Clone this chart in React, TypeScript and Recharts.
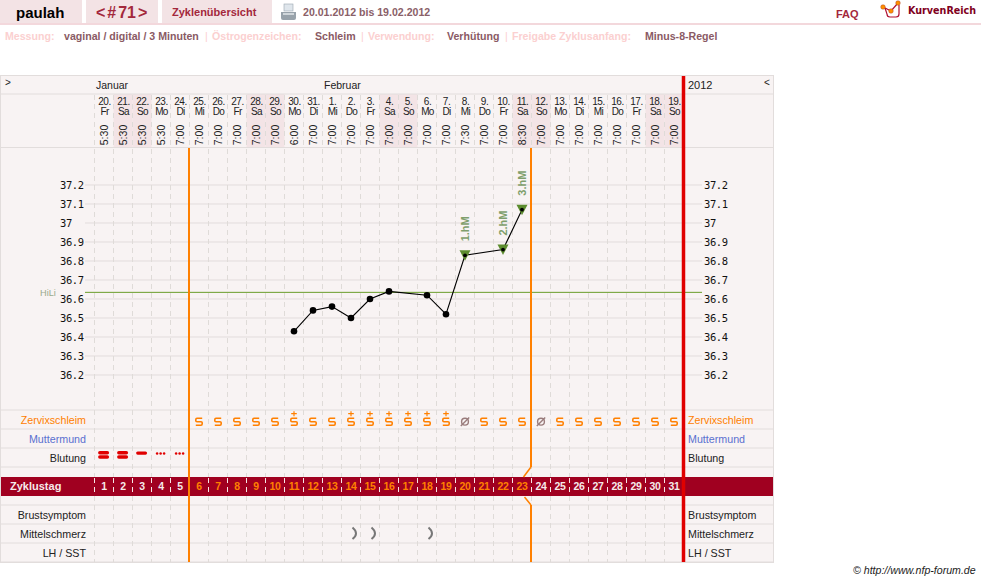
import React from "react";
import { ComposedChart, Line, XAxis, YAxis, ReferenceLine, ReferenceArea } from "recharts";

// ---- data ----
const dates = ["20.","21.","22.","23.","24.","25.","26.","27.","28.","29.","30.","31.","1.","2.","3.","4.","5.","6.","7.","8.","9.","10.","11.","12.","13.","14.","15.","16.","17.","18.","19."];
const weekdays = ["Fr","Sa","So","Mo","Di","Mi","Do","Fr","Sa","So","Mo","Di","Mi","Do","Fr","Sa","So","Mo","Di","Mi","Do","Fr","Sa","So","Mo","Di","Mi","Do","Fr","Sa","So"];
const times = ["5:30","5:30","5:30","5:30","7:00","7:00","7:00","7:00","7:00","7:00","6:00","7:00","7:00","7:00","7:00","7:00","7:00","7:00","7:00","7:30","7:00","7:00","8:30","7:00","7:00","7:00","7:00","7:00","7:00","7:00","7:00"];
const temps: (number | null)[] = [null,null,null,null,null,null,null,null,null,null,36.43,36.54,36.56,36.5,36.6,36.64,null,36.62,36.52,36.83,null,36.86,37.07,null,null,null,null,null,null,null,null];
const hochlage: (string | null)[] = [null,null,null,null,null,null,null,null,null,null,null,null,null,null,null,null,null,null,null,"1.hM",null,"2.hM","3.hM",null,null,null,null,null,null,null,null];
const zervix = ["","","","","","S","S","S","S","S","S+","S","S","S+","S+","S+","S+","S+","S+","0","S","S","S","0","S","S","S","S","S","S","S"];
const blutung = ["2","2","1","d","d","","","","","","","","","","","","","","","","","","","","","","","","","",""];
const schmerz = [13, 14, 17];
const tempTicks = [37.2,37.1,37,36.9,36.8,36.7,36.6,36.5,36.4,36.3,36.2];
const hiLi = 36.635;
const rowLabels = ["Zervixschleim","Muttermund","Blutung","","","Brustsymptom","Mittelschmerz","LH / SST"];
const rowTicks = [0,1,2,5,6,7];
const months = [{ t: "Januar", x: 96 }, { t: "Februar", x: 324 }];

const ORANGE = "#ff8000";
const LINE = "#e2dddc";
const DASH = "#dfdbd8";
const BAND = "#a00020";
const RED = "#e00000";
const SANS = "'Liberation Sans', Arial, sans-serif";
const MONO = "'DejaVu Sans Mono', monospace";

const table = dates.map((d, i) => ({
  x: i,
  date: d,
  wd: weekdays[i],
  time: times[i],
  temp: temps[i],
  hm: hochlage[i],
  zervix: zervix[i],
  zervixRow: zervix[i] ? 0 : null,
  blut: blutung[i],
  blutRow: blutung[i] ? 2 : null,
  painRow: schmerz.includes(i) ? 6 : null,
  cycleRow: 3.526,
}));

// layout helpers: page-pixel to axis units
const py = (p: number) => (p - 419.5) / 19;
const px = (p: number) => (p - 104) / 19;
const boundaries = dates.map((_, i) => i - 0.5).concat([30.5]);
const weekendIdx = dates.map((_, i) => i).filter((i) => weekdays[i] === "Sa" || weekdays[i] === "So");
const rowLines = [94, 147.5, 410, 429, 448, 467, 505, 524, 543, 562];

const headerTick = (p: any) => {
  const i = p.payload.value;
  const x = p.x;
  return (
    <g fontFamily={SANS} fontSize={10} fill="#222" key={i}>
      <text x={x + 0.5} y={29} textAnchor="middle" letterSpacing={-0.5}>{dates[i]}</text>
      <text x={x + 0.5} y={39} textAnchor="middle" letterSpacing={-0.6}>{weekdays[i]}</text>
      <text transform={`translate(${x + 3.5},59) rotate(-90)`} textAnchor="middle" fontSize={10.5}>{times[i]}</text>
    </g>
  );
};

const tempTick = (p: any) => {
  const v = p.payload.value;
  const t = String(v);
  return (
    <g fontFamily={MONO} fontSize={10.5} fill="#111">
      <text x={60} y={p.y + 4} letterSpacing={-0.4}>{t}</text>
      <text x={704} y={p.y + 4} letterSpacing={-0.4}>{t}</text>
    </g>
  );
};

const rowTick = (p: any) => {
  const v = p.payload.value;
  const col = v === 0 ? ORANGE : v === 1 ? "#5a70d0" : "#222";
  return (
    <g fontFamily={SANS} fontSize={10.7} fill={col}>
      <text x={86} y={p.y + 4.5} textAnchor="end">{rowLabels[v]}</text>
      <text x={688} y={p.y + 4.5}>{rowLabels[v]}</text>
    </g>
  );
};

const tempDot = (p: any) => {
  const { cx, cy, payload, index } = p;
  if (payload.temp == null || cy == null) return <g key={index} />;
  if (!payload.hm) return <circle key={index} cx={cx} cy={cy} r={3.3} fill="#000" />;
  return (
    <g key={index}>
      <path d={`M${cx - 5.5},${cy - 5} H${cx + 5.5} L${cx},${cy + 5.5} Z`} fill="#5c8c2e" />
      <circle cx={cx} cy={cy} r={1.9} fill="#000" />
      <text transform={`translate(${cx + 3.5},${cy - 14}) rotate(-90)`} fontFamily={SANS} fontSize={11} fontWeight="bold" fill="#7f9f6c">{payload.hm}</text>
    </g>
  );
};

const zervixDot = (p: any) => {
  const { cx, cy, payload, index } = p;
  if (!payload.zervix || cy == null) return <g key={index} />;
  const y = cy + 2.2;
  if (payload.zervix === "0") {
    return (
      <g key={index} stroke="#9a7c7c" strokeWidth={1.4} fill="none">
        <circle cx={cx} cy={y} r={3.4} />
        <path d={`M${cx - 4.2},${y + 4.2} L${cx + 4.2},${y - 4.2}`} />
      </g>
    );
  }
  return (
    <g key={index} stroke={ORANGE} strokeWidth={1.6} fill="none">
      <path d={`M${cx + 3.2},${y - 3.5} H${cx - 2} Q${cx - 3.2},${y - 3.5} ${cx - 3.2},${y - 2} V${y - 1} Q${cx - 3.2},${y} ${cx - 2},${y} H${cx + 2} Q${cx + 3.2},${y} ${cx + 3.2},${y + 1} V${y + 2} Q${cx + 3.2},${y + 3.5} ${cx + 2},${y + 3.5} H${cx - 3.2}`} />
      {payload.zervix === "S+" && <path d={`M${cx - 2.8},${y - 8} H${cx + 2.8} M${cx},${y - 10.5} V${y - 5.5}`} strokeWidth={1.2} />}
    </g>
  );
};

const blutDot = (p: any) => {
  const { cx, cy, payload, index } = p;
  if (!payload.blut || cy == null) return <g key={index} />;
  const x = cx - 0.4;
  if (payload.blut === "2") {
    return (
      <g key={index} fill={RED}>
        <rect x={x - 5.5} y={cy - 6.5} width={11} height={3.4} rx={1.7} />
        <rect x={x - 5.5} y={cy - 2.2} width={11} height={3.4} rx={1.7} />
      </g>
    );
  }
  if (payload.blut === "1") return <rect key={index} x={x - 5.5} y={cy - 6} width={11} height={3.2} rx={1.6} fill={RED} />;
  return (
    <g key={index} fill={RED}>
      <circle cx={x - 3.5} cy={cy - 4} r={1.25} />
      <circle cx={x} cy={cy - 4} r={1.25} />
      <circle cx={x + 3.5} cy={cy - 4} r={1.25} />
    </g>
  );
};

const painDot = (p: any) => {
  const { cx, cy, payload, index } = p;
  if (payload.painRow == null || cy == null) return <g key={index} />;
  return <path key={index} d={`M${cx + 1.5},${cy - 6} Q${cx + 8.5},${cy} ${cx + 1.5},${cy + 5.5}`} stroke="#777" strokeWidth={2} fill="none" />;
};

const cycleDot = (p: any) => {
  const { cx, cy, payload, index } = p;
  const day = payload.x + 1;
  const col = day >= 6 && day <= 23 ? ORANGE : "#f6eaea";
  return <text key={index} x={cx} y={cy + 4} textAnchor="middle" fontFamily={SANS} fontSize={10.5} fontWeight="bold" letterSpacing={-0.4} fill={col}>{day}</text>;
};

const Chrome = () => (
  <svg width={981} height={582} style={{ position: "absolute", left: 0, top: 0 }} fontFamily={SANS}>
    <rect x={0} y={0} width={82} height={23} fill="#f3e3e5" />
    <rect x={86} y={0} width={72} height={23} fill="#f3e3e5" />
    <rect x={162} y={0} width={110} height={23} fill="#f3e3e5" />
    <rect x={0} y={23} width={981} height={2} fill="#f3d8dc" />
    <text x={16} y={18} fontSize={15} fontWeight="bold" fill="#000">paulah</text>
    <text x={96} y={18} fontSize={16} fontWeight="bold" fill="#a3283c" wordSpacing={-2.5}>{"< # 71 >"}</text>
    <text x={172} y={16} fontSize={11} fontWeight="bold" fill="#a3283c">Zyklenübersicht</text>
    <g>
      <rect x={284} y={4} width={9} height={7} fill="#dfe6ec" stroke="#9aa6b0" strokeWidth={0.6} />
      <path d="M281,12 h15 v6 q0,2 -2,2 h-11 q-2,0 -2,-2 Z" fill="#98a2aa" />
      <rect x={283} y={13} width={11} height={2} fill="#d0d6da" />
    </g>
    <text x={303} y={16} fontSize={10.6} fontWeight="bold" fill="#8a6068">20.01.2012 bis 19.02.2012</text>
    <text x={836} y={18} fontSize={11} fontWeight="bold" fill="#a3283c">FAQ</text>
    <g>
      <path d="M885,8 L887,14 Q887,17 890,17 H896 Q899,17 899,14 V5" fill="none" stroke="#b01030" strokeWidth={1.2} />
      <path d="M883,7 L891,11 L898,3" fill="none" stroke="#b01030" strokeWidth={1.2} />
      <circle cx={883} cy={7} r={2.3} fill="#ff9000" stroke="#a03020" strokeWidth={0.4} />
      <circle cx={891} cy={11} r={2.3} fill="#ff9000" stroke="#a03020" strokeWidth={0.4} />
      <circle cx={898} cy={3} r={2.3} fill="#ff9000" stroke="#a03020" strokeWidth={0.4} />
    </g>
    <text x={908} y={14} fontSize={9.6} fontWeight="bold" fill="#800020" fontFamily="'DejaVu Sans', sans-serif">KurvenReich</text>

    <g fontSize={10.6} fontWeight="bold">
      <text x={5} y={40} fill="#fbd0d0">Messung:</text>
      <text x={64} y={40} fill="#8a5a64">vaginal / digital / 3 Minuten</text>
      <text x={205} y={40} fill="#fbd0d0" fontWeight="normal">|</text>
      <text x={212} y={40} fill="#fbd0d0">Östrogenzeichen:</text>
      <text x={315} y={40} fill="#8a5a64">Schleim</text>
      <text x={361} y={40} fill="#fbd0d0" fontWeight="normal">|</text>
      <text x={368} y={40} fill="#fbd0d0">Verwendung:</text>
      <text x={447} y={40} fill="#8a5a64">Verhütung</text>
      <text x={505} y={40} fill="#fbd0d0" fontWeight="normal">|</text>
      <text x={512} y={40} fill="#fbd0d0">Freigabe Zyklusanfang:</text>
      <text x={645} y={40} fill="#8a5a64">Minus-8-Regel</text>
    </g>

    <rect x={0.5} y={75.5} width={773} height={487} fill="#f8f3f3" stroke={LINE} />
    <text x={5} y={86} fontSize={10} fill="#222">{">"}</text>
    <text x={764} y={86} fontSize={10} fill="#222">{"<"}</text>
    {months.map((m) => (
      <text key={m.t} x={m.x} y={89} fontSize={10.5} fill="#222">{m.t}</text>
    ))}
    <text x={688} y={89} fontSize={11} fill="#222">2012</text>
    <text x={40} y={296} fontSize={9.2} fill="#9aaa8c">HiLi</text>
    <text x={853} y={574} fontSize={10.6} fontStyle="italic" fill="#222">© http://www.nfp-forum.de</text>
  </svg>
);

export default function App() {
  return (
    <div style={{ position: "absolute", left: 0, top: 0, width: 981, height: 582, background: "#fff", overflow: "hidden" }}>
      <Chrome />
      <div style={{ position: "absolute", left: 0, top: 76 }}>
        <ComposedChart width={774} height={488} data={table} margin={{ top: 0, right: 0, bottom: 0, left: 0 }}>
          <XAxis
            xAxisId={0}
            type="number"
            dataKey="x"
            orientation="top"
            mirror
            domain={[px(0), px(774)]}
            allowDataOverflow
            ticks={dates.map((_, i) => i)}
            interval={0}
            tick={headerTick}
            axisLine={false}
            tickLine={false}
          />
          <YAxis
            yAxisId="t"
            type="number"
            mirror
            domain={[35.20526, 37.77368]}
            allowDataOverflow
            ticks={tempTicks}
            interval={0}
            tick={tempTick}
            axisLine={false}
            tickLine={false}
          />
          <YAxis
            yAxisId="r"
            type="number"
            mirror
            reversed
            domain={[py(76), py(564)]}
            allowDataOverflow
            ticks={rowTicks}
            interval={0}
            tick={rowTick}
            axisLine={false}
            tickLine={false}
          />

          {weekendIdx.map((i) => (
            <ReferenceArea key={`w${i}`} xAxisId={0} yAxisId="r" x1={i - 0.5} x2={i + 0.5} y1={py(94)} y2={py(147)} fill="#f3e4e6" fillOpacity={1} stroke="none" ifOverflow="visible" />
          ))}
          {rowLines.map((l) => (
            <ReferenceLine key={`r${l}`} xAxisId={0} yAxisId="r" stroke={LINE} segment={[{ x: px(0), y: py(l) }, { x: px(773), y: py(l) }]} ifOverflow="visible" />
          ))}
          {tempTicks.map((t) => (
            <ReferenceLine key={`t${t}`} xAxisId={0} yAxisId="t" stroke={LINE} segment={[{ x: px(85), y: t }, { x: px(702), y: t }]} ifOverflow="visible" />
          ))}
          <ReferenceArea xAxisId={0} yAxisId="r" x1={px(1)} x2={px(773)} y1={py(477)} y2={py(496)} fill={BAND} fillOpacity={1} stroke="none" ifOverflow="visible" />
          {boundaries.map((b) => (
            <ReferenceLine key={`a${b}`} xAxisId={0} yAxisId="r" stroke={DASH} strokeDasharray="5 4" segment={[{ x: b, y: py(95) }, { x: b, y: py(477) }]} ifOverflow="visible" />
          ))}
          {boundaries.map((b) => (
            <ReferenceLine key={`c${b}`} xAxisId={0} yAxisId="r" stroke={DASH} strokeDasharray="5 4" segment={[{ x: b, y: py(496) }, { x: b, y: py(562) }]} ifOverflow="visible" />
          ))}
          {boundaries.map((b) => (
            <ReferenceLine key={`b${b}`} xAxisId={0} yAxisId="r" stroke="#f6e6e6" strokeDasharray="5 4" segment={[{ x: b, y: py(478) }, { x: b, y: py(496) }]} ifOverflow="visible" />
          ))}
          <ReferenceLine xAxisId={0} yAxisId="t" stroke="#6a9e2a" segment={[{ x: px(85), y: hiLi }, { x: px(702), y: hiLi }]} ifOverflow="visible" />

          <ReferenceLine xAxisId={0} yAxisId="r" stroke={ORANGE} strokeWidth={2} segment={[{ x: px(189), y: py(148) }, { x: px(189), y: py(562) }]} ifOverflow="visible" />
          <ReferenceLine xAxisId={0} yAxisId="r" stroke={ORANGE} strokeWidth={2} segment={[{ x: px(531), y: py(148) }, { x: px(531), y: py(467) }]} ifOverflow="visible" />
          <ReferenceLine xAxisId={0} yAxisId="r" stroke={ORANGE} strokeWidth={1.5} segment={[{ x: px(531), y: py(467) }, { x: px(523.5), y: py(477) }]} ifOverflow="visible" />
          <ReferenceLine xAxisId={0} yAxisId="r" stroke={ORANGE} strokeWidth={1.5} segment={[{ x: px(524.5), y: py(497) }, { x: px(531), y: py(505) }]} ifOverflow="visible" />
          <ReferenceLine xAxisId={0} yAxisId="r" stroke={ORANGE} strokeWidth={2} segment={[{ x: px(531), y: py(505) }, { x: px(531), y: py(562) }]} ifOverflow="visible" />
          <ReferenceLine xAxisId={0} yAxisId="r" stroke={RED} strokeWidth={3.5} segment={[{ x: 30.5, y: py(76) }, { x: 30.5, y: py(562) }]} ifOverflow="visible" />
          <ReferenceLine
            xAxisId={0}
            yAxisId="r"
            stroke="none"
            segment={[{ x: px(10), y: 3.526 }, { x: px(60), y: 3.526 }]}
            ifOverflow="visible"
            label={(p: any) => <text x={10} y={(p.viewBox?.y ?? 410.5) + 4} fontFamily={SANS} fontSize={11} fontWeight="bold" fill="#f6eaea">Zyklustag</text>}
          />

          <Line xAxisId={0} yAxisId="t" dataKey="temp" connectNulls stroke="#000" strokeWidth={1.1} dot={tempDot} activeDot={false} isAnimationActive={false} />
          <Line xAxisId={0} yAxisId="r" dataKey="zervixRow" stroke="none" dot={zervixDot} activeDot={false} isAnimationActive={false} />
          <Line xAxisId={0} yAxisId="r" dataKey="blutRow" stroke="none" dot={blutDot} activeDot={false} isAnimationActive={false} />
          <Line xAxisId={0} yAxisId="r" dataKey="painRow" stroke="none" dot={painDot} activeDot={false} isAnimationActive={false} />
          <Line xAxisId={0} yAxisId="r" dataKey="cycleRow" stroke="none" dot={cycleDot} activeDot={false} isAnimationActive={false} />
        </ComposedChart>
      </div>
    </div>
  );
}
